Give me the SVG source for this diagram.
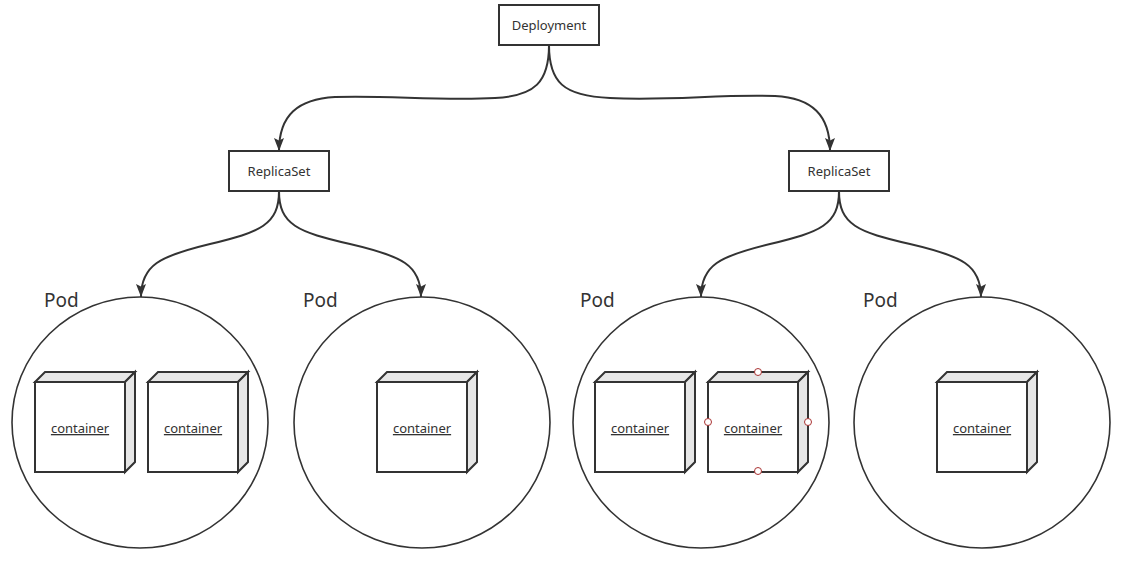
<svg xmlns="http://www.w3.org/2000/svg" width="1126" height="572" viewBox="0 0 1126 572">
<defs>
<style>
.box{fill:#fff;stroke:#333;stroke-width:2}
.lbl{font-family:"Noto Sans","Open Sans","Liberation Sans",sans-serif;font-size:13px;fill:#333;text-anchor:middle}
.pod{fill:#fff;stroke:#333;stroke-width:1.6}
.podlbl{font-family:"Noto Sans","Open Sans","Liberation Sans",sans-serif;font-size:19px;fill:#333}
.edge{fill:none;stroke:#333;stroke-width:2;marker-end:url(#arr)}
.front{fill:#fff;stroke:#333;stroke-width:2;stroke-linejoin:miter}
.side{fill:#e6e6e6;stroke:#333;stroke-width:2;stroke-linejoin:miter}
.ctext{font-family:"Noto Sans","Open Sans","Liberation Sans",sans-serif;font-size:13px;fill:#333;text-anchor:middle;text-decoration:underline}
.hdl{fill:#fff;stroke:#a33;stroke-width:1}
</style>
<marker id="arr" markerUnits="userSpaceOnUse" markerWidth="14" markerHeight="12" refX="13" refY="5" orient="auto">
<path d="M0,0 L13,5 L0,10 L2.5,5 Z" fill="#333"/>
</marker>
<g id="cube">
<polygon class="side" points="0,10 10,0 100,0 90,10"/>
<polygon class="side" points="90,10 100,0 100,90 90,100"/>
<rect class="front" x="0" y="10" width="90" height="90"/>
</g>
</defs>
<rect width="1126" height="572" fill="#fff"/>

<g id="connectors">
<path class="edge" d="M549 45 C549 82 535 96 495 98 C440 101 385 95 335 97 C298 99 279 115 279 151"/>
<path class="edge" d="M549 45 C549 82 563 96 610 98 C670 101 720 94 775 96 C812 98 830 115 830 151"/>
<path class="edge" d="M279 191 C279 225 260 232 210 244 C160 256 141 265 141 297"/>
<path class="edge" d="M279 191 C279 225 298 232 350 244 C402 256 421 265 421 297"/>
<path class="edge" d="M839 191 C839 225 820 232 770 244 C720 256 701 265 701 297"/>
<path class="edge" d="M839 191 C839 225 858 232 910 244 C962 256 981 265 981 297"/>
</g>

<g id="deployment">
<rect class="box" x="499" y="5" width="100" height="40"/>
<text class="lbl" x="549" y="30">Deployment</text>
</g>
<g id="replicaset-left">
<rect class="box" x="229" y="151" width="100" height="40"/>
<text class="lbl" x="279" y="176">ReplicaSet</text>
</g>
<g id="replicaset-right">
<rect class="box" x="789" y="151" width="100" height="40"/>
<text class="lbl" x="839" y="176">ReplicaSet</text>
</g>

<g id="pod1">
<ellipse class="pod" cx="140" cy="422.5" rx="128" ry="125.5"/>
<text class="podlbl" x="44" y="307">Pod</text>
</g>
<g id="pod2">
<ellipse class="pod" cx="422" cy="422.5" rx="128" ry="125.5"/>
<text class="podlbl" x="303" y="307">Pod</text>
</g>
<g id="pod3">
<ellipse class="pod" cx="701" cy="422.5" rx="128" ry="125.5"/>
<text class="podlbl" x="580" y="307">Pod</text>
</g>
<g id="pod4">
<ellipse class="pod" cx="982" cy="422.5" rx="128" ry="125.5"/>
<text class="podlbl" x="863" y="307">Pod</text>
</g>

<g id="container1">
<use href="#cube" x="35" y="372"/>
<text class="ctext" x="80" y="433">container</text>
</g>
<g id="container2">
<use href="#cube" x="148" y="372"/>
<text class="ctext" x="193" y="433">container</text>
</g>
<g id="container3">
<use href="#cube" x="377" y="372"/>
<text class="ctext" x="422" y="433">container</text>
</g>
<g id="container4">
<use href="#cube" x="595" y="372"/>
<text class="ctext" x="640" y="433">container</text>
</g>
<g id="container5">
<use href="#cube" x="708" y="372"/>
<text class="ctext" x="753" y="433">container</text>
<circle class="hdl" cx="758" cy="372" r="3.5"/>
<circle class="hdl" cx="708" cy="422" r="3.5"/>
<circle class="hdl" cx="808" cy="422" r="3.5"/>
<circle class="hdl" cx="758" cy="471" r="3.5"/>
</g>
<g id="container6">
<use href="#cube" x="937" y="372"/>
<text class="ctext" x="982" y="433">container</text>
</g>
</svg>
